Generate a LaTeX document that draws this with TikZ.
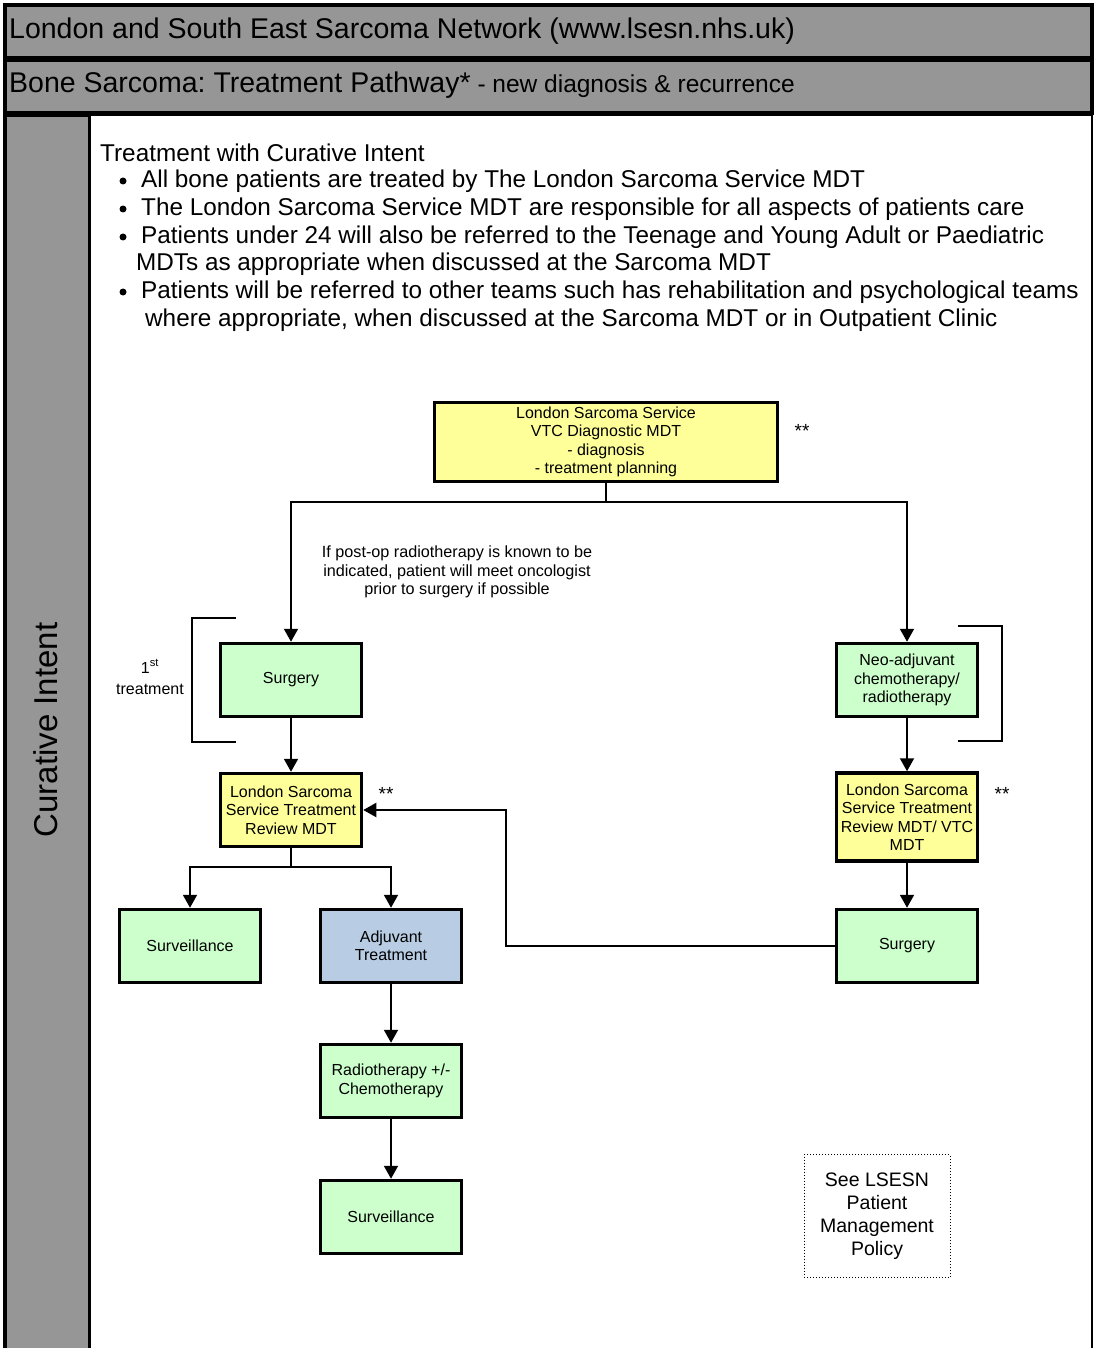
\documentclass[tikz,border=0pt]{standalone}
\usepackage{fontspec}
\setmainfont{Liberation Sans}
\usepackage{xcolor}
\usetikzlibrary{
    arrows.meta,
    positioning,
    calc
}
\definecolor{bargray}{HTML}{969696}
\definecolor{mdtyellow}{HTML}{FFFF99}
\definecolor{treatgreen}{HTML}{CCFFCC}
\definecolor{adjblue}{HTML}{B8CCE4}
\frenchspacing

\begin{document}
\begin{tikzpicture}[
        x=1pt, y=-1pt,
        box/.style={draw, line width=3.5pt, minimum width=141pt, minimum height=73pt, align=center, inner sep=2pt, font=\fontsize{16}{18.5}\selectfont},
        mdt/.style={box, fill=mdtyellow},
        treat/.style={box, fill=treatgreen},
        band/.style={draw, line width=3.5pt, fill=bargray},
        txt/.style={anchor=west, inner sep=0pt, font=\fontsize{24.3}{28}\selectfont},
        stars/.style={font=\fontsize{19}{20}\selectfont},
        flow/.style={line width=2pt},
        arrow/.style={flow, -{Triangle[length=13pt,width=14pt]}}
    ]
        \useasboundingbox (0,0) rectangle (1094,1348);

        % Frame and title bars
        \draw[band] (5,5) rectangle (1092,58);
        \draw[band] (5,60) rectangle (1092,113);
        \draw[band] (5,115) rectangle (90,1360);
        \draw[line width=2.5pt, fill=white] (90,115) rectangle (1092,1360);
        \node[txt, font=\fontsize{28.5}{30}\selectfont] (title) at (9,31) {London and South East Sarcoma Network (www.lsesn.nhs.uk)};
        \node[txt, font=\fontsize{28.5}{30}\selectfont] (subtitle) at (9,85) {Bone Sarcoma: Treatment Pathway*\fontsize{24.5}{26}\selectfont{} - new diagnosis \& recurrence};
        \node[rotate=90, font=\fontsize{33}{35}\selectfont] (side) at (46,730) {Curative Intent};

        % Intro text
        \node[txt] (intro) at (100,153) {Treatment with Curative Intent};
        \foreach \y in {181,209,237,292}
            \node[circle, fill, inner sep=0pt, minimum size=7pt] at (123,\y) {};
        \node[txt] (pt1) at (141,181) {All bone patients are treated by The London Sarcoma Service MDT};
        \node[txt] (pt2) at (141,209) {The London Sarcoma Service MDT are responsible for all aspects of patients care};
        \node[txt] (pt3) at (141,237) {Patients under 24 will also be referred to the Teenage and Young Adult or Paediatric};
        \node[txt] (pt3b) at (136,264) {MDTs as appropriate when discussed at the Sarcoma MDT};
        \node[txt] (pt4) at (141,292) {Patients will be referred to other teams such has rehabilitation and psychological teams};
        \node[txt] (pt4b) at (145,320) {where appropriate, when discussed at the Sarcoma MDT or in Outpatient Clinic};

        % Pathway boxes
        \node[mdt, minimum width=343pt, minimum height=79pt] (diag) at (606,442) {London Sarcoma Service\\VTC Diagnostic MDT\\- diagnosis\\- treatment planning};
        \node[treat] (surgL) at (291,680) {Surgery};
        \node[mdt] (reviewL) at (291,810) {London Sarcoma\\Service Treatment\\Review MDT};
        \node[treat] (survL) at (190,946) {Surveillance};
        \node[box, fill=adjblue] (adjuv) at (391,946) {Adjuvant\\Treatment};
        \node[treat] (radchemo) at (391,1081) {Radiotherapy +/-\\Chemotherapy};
        \node[treat] (survB) at (391,1217) {Surveillance};
        \node[treat] (neoadj) at (907,680) {Neo-adjuvant\\chemotherapy/\\radiotherapy};
        \node[mdt, minimum height=88pt] (reviewR) at (907,817) {London Sarcoma\\Service Treatment\\Review MDT/ VTC\\MDT};
        \node[treat] (surgR) at (907,946) {Surgery};

        % Notes
        \node[align=center, font=\fontsize{16.2}{18.5}\selectfont] (note) at (457,572) {If post-op radiotherapy is known to be\\indicated, patient will meet oncologist\\prior to surgery if possible};
        \node[stars] (star1) at (802,431) {**};
        \node[stars] (star2) at (386,794) {**};
        \node[stars] (star3) at (1002,794) {**};
        \node[align=center, font=\fontsize{16}{21}\selectfont] (first) at (150,677) {1\textsuperscript{st}\\treatment};
        \node[draw, dotted, line width=1pt, minimum width=146pt, minimum height=123pt, align=center, font=\fontsize{19.5}{23}\selectfont] (policy) at (877,1216) {See LSESN\\Patient\\Management\\Policy};

        % Brackets
        \draw[line width=1.3pt] (236,618) -- (192,618) -- (192,742) -- (236,742);
        \draw[line width=1.3pt] (958,626) -- (1002,626) -- (1002,741) -- (958,741);

        % Connectors
        \draw[flow] (diag.south) -- ++(0,19) coordinate (split);
        \draw[arrow] (split) -| (surgL.north);
        \draw[arrow] (split) -| (neoadj.north);
        \draw[arrow] (surgL) -- (reviewL);
        \draw[arrow] (neoadj) -- (reviewR);
        \draw[arrow] (reviewR) -- (surgR);
        \draw[flow] (reviewL.south) -- ++(0,19) coordinate (split2);
        \draw[arrow] (split2) -| (survL.north);
        \draw[arrow] (split2) -| (adjuv.north);
        \draw[arrow] (adjuv) -- (radchemo);
        \draw[arrow] (radchemo) -- (survB);
        \coordinate (turn) at (506,946);
        \draw[arrow] (surgR.west) -- (turn) |- (reviewL.east);
    \end{tikzpicture}
\end{document}
